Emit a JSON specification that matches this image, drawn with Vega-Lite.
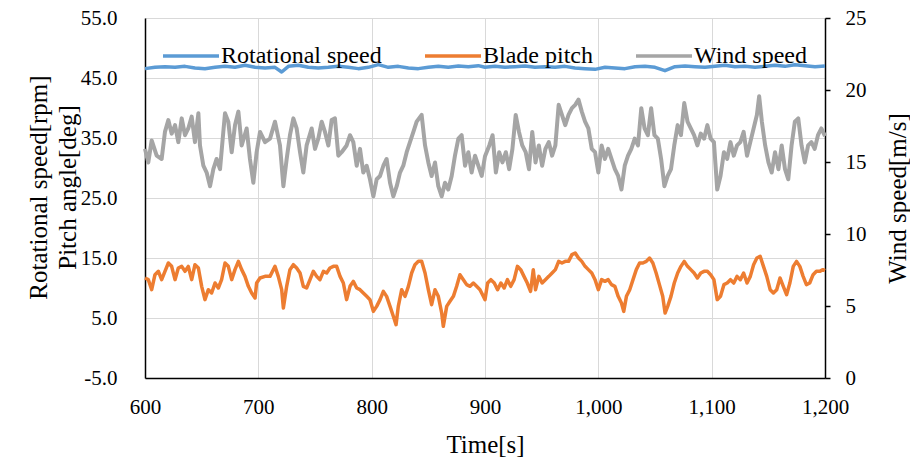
{
"$schema": "https://vega.github.io/schema/vega-lite/v6.json",
"width": 680, "height": 360,
"autosize": {"type": "none"},
"padding": {"left": 145, "top": 18, "right": 85, "bottom": 81},
"config": {
  "font": "Liberation Serif",
  "view": {"stroke": null},
  "axis": {"labelFont": "Liberation Serif", "titleFont": "Liberation Serif", "labelColor": "#000", "titleColor": "#000", "titleFontWeight": "normal", "labelFontSize": 21, "titleFontSize": 25, "gridColor": "#d9d9d9", "gridWidth": 1, "domainColor": "#000", "domainWidth": 1.5, "tickColor": "#000", "tickWidth": 1.5},
  "legend": {"labelFont": "Liberation Serif", "labelColor": "#000"}
},
"layer": [
  {
    "data": {"values": [
{"t":600.0,"v":46.56,"s":"Rotational speed"},{"t":608.8,"v":46.78,"s":"Rotational speed"},{"t":617.6,"v":46.89,"s":"Rotational speed"},{"t":626.5,"v":46.78,"s":"Rotational speed"},{"t":635.3,"v":46.94,"s":"Rotational speed"},{"t":644.1,"v":46.67,"s":"Rotational speed"},{"t":652.9,"v":46.56,"s":"Rotational speed"},{"t":661.8,"v":46.78,"s":"Rotational speed"},{"t":670.6,"v":46.94,"s":"Rotational speed"},{"t":679.4,"v":46.78,"s":"Rotational speed"},{"t":688.2,"v":47.11,"s":"Rotational speed"},{"t":697.1,"v":46.78,"s":"Rotational speed"},{"t":705.9,"v":46.67,"s":"Rotational speed"},{"t":714.7,"v":46.78,"s":"Rotational speed"},{"t":720.6,"v":46.0,"s":"Rotational speed"},{"t":726.5,"v":46.94,"s":"Rotational speed"},{"t":735.3,"v":47.11,"s":"Rotational speed"},{"t":744.1,"v":46.78,"s":"Rotational speed"},{"t":752.9,"v":46.67,"s":"Rotational speed"},{"t":761.8,"v":46.78,"s":"Rotational speed"},{"t":770.6,"v":46.94,"s":"Rotational speed"},{"t":779.4,"v":46.78,"s":"Rotational speed"},{"t":788.2,"v":46.56,"s":"Rotational speed"},{"t":797.1,"v":46.78,"s":"Rotational speed"},{"t":805.9,"v":47.22,"s":"Rotational speed"},{"t":814.7,"v":46.78,"s":"Rotational speed"},{"t":823.5,"v":46.94,"s":"Rotational speed"},{"t":832.4,"v":46.67,"s":"Rotational speed"},{"t":841.2,"v":46.56,"s":"Rotational speed"},{"t":850.0,"v":46.78,"s":"Rotational speed"},{"t":858.8,"v":46.94,"s":"Rotational speed"},{"t":867.6,"v":46.78,"s":"Rotational speed"},{"t":876.5,"v":47.0,"s":"Rotational speed"},{"t":885.3,"v":46.89,"s":"Rotational speed"},{"t":894.1,"v":47.06,"s":"Rotational speed"},{"t":900.0,"v":46.78,"s":"Rotational speed"},{"t":908.8,"v":46.94,"s":"Rotational speed"},{"t":917.6,"v":46.78,"s":"Rotational speed"},{"t":926.5,"v":46.89,"s":"Rotational speed"},{"t":935.3,"v":47.0,"s":"Rotational speed"},{"t":944.1,"v":46.78,"s":"Rotational speed"},{"t":952.9,"v":46.89,"s":"Rotational speed"},{"t":961.8,"v":46.78,"s":"Rotational speed"},{"t":970.6,"v":46.94,"s":"Rotational speed"},{"t":979.4,"v":46.67,"s":"Rotational speed"},{"t":988.2,"v":46.56,"s":"Rotational speed"},{"t":997.1,"v":46.44,"s":"Rotational speed"},{"t":1005.9,"v":46.78,"s":"Rotational speed"},{"t":1014.7,"v":46.67,"s":"Rotational speed"},{"t":1023.5,"v":46.56,"s":"Rotational speed"},{"t":1032.4,"v":46.89,"s":"Rotational speed"},{"t":1041.2,"v":46.94,"s":"Rotational speed"},{"t":1050.0,"v":46.78,"s":"Rotational speed"},{"t":1058.8,"v":46.22,"s":"Rotational speed"},{"t":1067.6,"v":46.89,"s":"Rotational speed"},{"t":1076.5,"v":47.0,"s":"Rotational speed"},{"t":1085.3,"v":46.89,"s":"Rotational speed"},{"t":1094.1,"v":46.78,"s":"Rotational speed"},{"t":1102.9,"v":46.94,"s":"Rotational speed"},{"t":1111.8,"v":47.11,"s":"Rotational speed"},{"t":1120.6,"v":46.89,"s":"Rotational speed"},{"t":1129.4,"v":46.94,"s":"Rotational speed"},{"t":1138.2,"v":46.78,"s":"Rotational speed"},{"t":1147.1,"v":46.94,"s":"Rotational speed"},{"t":1155.9,"v":47.11,"s":"Rotational speed"},{"t":1164.7,"v":46.94,"s":"Rotational speed"},{"t":1173.5,"v":47.22,"s":"Rotational speed"},{"t":1182.4,"v":47.06,"s":"Rotational speed"},{"t":1191.2,"v":46.89,"s":"Rotational speed"},{"t":1200.0,"v":47.0,"s":"Rotational speed"},
{"t":600.0,"v":11.67,"s":"Blade pitch"},{"t":602.9,"v":11.39,"s":"Blade pitch"},{"t":605.9,"v":9.72,"s":"Blade pitch"},{"t":608.8,"v":12.22,"s":"Blade pitch"},{"t":611.8,"v":12.78,"s":"Blade pitch"},{"t":614.7,"v":11.39,"s":"Blade pitch"},{"t":617.6,"v":12.78,"s":"Blade pitch"},{"t":620.6,"v":14.17,"s":"Blade pitch"},{"t":623.5,"v":13.61,"s":"Blade pitch"},{"t":626.5,"v":11.39,"s":"Blade pitch"},{"t":629.4,"v":13.33,"s":"Blade pitch"},{"t":632.4,"v":13.61,"s":"Blade pitch"},{"t":635.3,"v":12.78,"s":"Blade pitch"},{"t":638.2,"v":13.61,"s":"Blade pitch"},{"t":641.2,"v":11.39,"s":"Blade pitch"},{"t":644.1,"v":13.89,"s":"Blade pitch"},{"t":647.1,"v":13.33,"s":"Blade pitch"},{"t":650.0,"v":10.28,"s":"Blade pitch"},{"t":652.9,"v":8.06,"s":"Blade pitch"},{"t":655.9,"v":9.72,"s":"Blade pitch"},{"t":658.8,"v":9.17,"s":"Blade pitch"},{"t":661.8,"v":10.83,"s":"Blade pitch"},{"t":664.7,"v":10.0,"s":"Blade pitch"},{"t":667.6,"v":11.39,"s":"Blade pitch"},{"t":670.6,"v":14.17,"s":"Blade pitch"},{"t":673.5,"v":13.61,"s":"Blade pitch"},{"t":676.5,"v":11.39,"s":"Blade pitch"},{"t":679.4,"v":13.06,"s":"Blade pitch"},{"t":682.4,"v":14.44,"s":"Blade pitch"},{"t":685.3,"v":13.06,"s":"Blade pitch"},{"t":688.2,"v":11.94,"s":"Blade pitch"},{"t":691.2,"v":10.28,"s":"Blade pitch"},{"t":694.1,"v":9.17,"s":"Blade pitch"},{"t":697.1,"v":8.33,"s":"Blade pitch"},{"t":698.5,"v":10.83,"s":"Blade pitch"},{"t":701.5,"v":11.67,"s":"Blade pitch"},{"t":705.9,"v":11.94,"s":"Blade pitch"},{"t":710.3,"v":11.94,"s":"Blade pitch"},{"t":714.7,"v":13.61,"s":"Blade pitch"},{"t":717.6,"v":11.94,"s":"Blade pitch"},{"t":720.6,"v":9.72,"s":"Blade pitch"},{"t":722.1,"v":6.67,"s":"Blade pitch"},{"t":725.0,"v":10.28,"s":"Blade pitch"},{"t":727.9,"v":13.06,"s":"Blade pitch"},{"t":730.9,"v":13.89,"s":"Blade pitch"},{"t":733.8,"v":13.33,"s":"Blade pitch"},{"t":736.8,"v":12.5,"s":"Blade pitch"},{"t":739.7,"v":10.28,"s":"Blade pitch"},{"t":742.6,"v":10.0,"s":"Blade pitch"},{"t":745.6,"v":11.39,"s":"Blade pitch"},{"t":748.5,"v":12.78,"s":"Blade pitch"},{"t":751.5,"v":11.94,"s":"Blade pitch"},{"t":754.4,"v":11.39,"s":"Blade pitch"},{"t":757.4,"v":12.78,"s":"Blade pitch"},{"t":760.3,"v":12.5,"s":"Blade pitch"},{"t":763.2,"v":13.33,"s":"Blade pitch"},{"t":766.2,"v":13.61,"s":"Blade pitch"},{"t":769.1,"v":13.61,"s":"Blade pitch"},{"t":772.1,"v":11.94,"s":"Blade pitch"},{"t":775.0,"v":10.83,"s":"Blade pitch"},{"t":777.9,"v":8.06,"s":"Blade pitch"},{"t":780.9,"v":10.28,"s":"Blade pitch"},{"t":783.8,"v":11.11,"s":"Blade pitch"},{"t":786.8,"v":10.0,"s":"Blade pitch"},{"t":789.7,"v":9.72,"s":"Blade pitch"},{"t":792.6,"v":9.17,"s":"Blade pitch"},{"t":795.6,"v":8.61,"s":"Blade pitch"},{"t":798.5,"v":8.06,"s":"Blade pitch"},{"t":801.5,"v":6.11,"s":"Blade pitch"},{"t":804.4,"v":6.94,"s":"Blade pitch"},{"t":807.4,"v":8.06,"s":"Blade pitch"},{"t":810.3,"v":9.44,"s":"Blade pitch"},{"t":813.2,"v":8.61,"s":"Blade pitch"},{"t":816.2,"v":6.94,"s":"Blade pitch"},{"t":819.1,"v":5.28,"s":"Blade pitch"},{"t":821.5,"v":3.89,"s":"Blade pitch"},{"t":823.5,"v":6.94,"s":"Blade pitch"},{"t":826.5,"v":9.72,"s":"Blade pitch"},{"t":829.4,"v":8.61,"s":"Blade pitch"},{"t":832.4,"v":10.28,"s":"Blade pitch"},{"t":835.3,"v":12.5,"s":"Blade pitch"},{"t":838.2,"v":13.89,"s":"Blade pitch"},{"t":841.2,"v":14.44,"s":"Blade pitch"},{"t":844.1,"v":14.44,"s":"Blade pitch"},{"t":847.1,"v":12.5,"s":"Blade pitch"},{"t":850.0,"v":9.72,"s":"Blade pitch"},{"t":852.9,"v":7.22,"s":"Blade pitch"},{"t":855.9,"v":9.72,"s":"Blade pitch"},{"t":858.8,"v":8.61,"s":"Blade pitch"},{"t":861.8,"v":5.83,"s":"Blade pitch"},{"t":863.2,"v":3.61,"s":"Blade pitch"},{"t":866.2,"v":6.94,"s":"Blade pitch"},{"t":869.1,"v":7.78,"s":"Blade pitch"},{"t":872.1,"v":8.61,"s":"Blade pitch"},{"t":875.0,"v":10.28,"s":"Blade pitch"},{"t":877.9,"v":12.22,"s":"Blade pitch"},{"t":880.9,"v":11.39,"s":"Blade pitch"},{"t":883.8,"v":10.56,"s":"Blade pitch"},{"t":886.8,"v":10.28,"s":"Blade pitch"},{"t":889.7,"v":10.83,"s":"Blade pitch"},{"t":892.6,"v":10.28,"s":"Blade pitch"},{"t":895.6,"v":9.72,"s":"Blade pitch"},{"t":898.5,"v":8.61,"s":"Blade pitch"},{"t":900.0,"v":8.06,"s":"Blade pitch"},{"t":902.3,"v":10.83,"s":"Blade pitch"},{"t":905.2,"v":11.39,"s":"Blade pitch"},{"t":908.2,"v":10.83,"s":"Blade pitch"},{"t":911.1,"v":9.72,"s":"Blade pitch"},{"t":914.0,"v":10.83,"s":"Blade pitch"},{"t":916.9,"v":10.0,"s":"Blade pitch"},{"t":919.8,"v":11.39,"s":"Blade pitch"},{"t":922.7,"v":10.28,"s":"Blade pitch"},{"t":925.7,"v":11.39,"s":"Blade pitch"},{"t":928.6,"v":13.61,"s":"Blade pitch"},{"t":931.5,"v":13.06,"s":"Blade pitch"},{"t":934.4,"v":11.94,"s":"Blade pitch"},{"t":937.3,"v":10.83,"s":"Blade pitch"},{"t":940.2,"v":9.44,"s":"Blade pitch"},{"t":942.6,"v":13.06,"s":"Blade pitch"},{"t":944.6,"v":9.72,"s":"Blade pitch"},{"t":947.5,"v":11.94,"s":"Blade pitch"},{"t":950.4,"v":10.83,"s":"Blade pitch"},{"t":953.3,"v":11.39,"s":"Blade pitch"},{"t":956.3,"v":11.94,"s":"Blade pitch"},{"t":959.2,"v":12.5,"s":"Blade pitch"},{"t":962.1,"v":13.06,"s":"Blade pitch"},{"t":965.0,"v":14.44,"s":"Blade pitch"},{"t":967.9,"v":14.17,"s":"Blade pitch"},{"t":970.8,"v":14.44,"s":"Blade pitch"},{"t":973.7,"v":14.44,"s":"Blade pitch"},{"t":976.7,"v":15.56,"s":"Blade pitch"},{"t":979.6,"v":15.83,"s":"Blade pitch"},{"t":982.5,"v":15.0,"s":"Blade pitch"},{"t":985.4,"v":14.44,"s":"Blade pitch"},{"t":988.3,"v":13.61,"s":"Blade pitch"},{"t":991.2,"v":13.06,"s":"Blade pitch"},{"t":994.2,"v":12.5,"s":"Blade pitch"},{"t":997.1,"v":11.39,"s":"Blade pitch"},{"t":1000.0,"v":9.72,"s":"Blade pitch"},{"t":1002.9,"v":11.39,"s":"Blade pitch"},{"t":1005.8,"v":11.11,"s":"Blade pitch"},{"t":1008.7,"v":11.39,"s":"Blade pitch"},{"t":1011.6,"v":10.56,"s":"Blade pitch"},{"t":1014.6,"v":10.28,"s":"Blade pitch"},{"t":1017.5,"v":8.61,"s":"Blade pitch"},{"t":1020.4,"v":7.5,"s":"Blade pitch"},{"t":1022.4,"v":6.11,"s":"Blade pitch"},{"t":1024.8,"v":8.61,"s":"Blade pitch"},{"t":1027.7,"v":9.72,"s":"Blade pitch"},{"t":1030.6,"v":11.39,"s":"Blade pitch"},{"t":1033.5,"v":13.06,"s":"Blade pitch"},{"t":1036.4,"v":14.17,"s":"Blade pitch"},{"t":1039.3,"v":14.17,"s":"Blade pitch"},{"t":1042.3,"v":14.44,"s":"Blade pitch"},{"t":1045.2,"v":15.0,"s":"Blade pitch"},{"t":1048.1,"v":14.17,"s":"Blade pitch"},{"t":1051.0,"v":12.5,"s":"Blade pitch"},{"t":1053.9,"v":10.56,"s":"Blade pitch"},{"t":1056.8,"v":8.61,"s":"Blade pitch"},{"t":1058.9,"v":5.83,"s":"Blade pitch"},{"t":1061.2,"v":6.94,"s":"Blade pitch"},{"t":1064.1,"v":8.61,"s":"Blade pitch"},{"t":1067.0,"v":10.83,"s":"Blade pitch"},{"t":1070.0,"v":12.5,"s":"Blade pitch"},{"t":1072.9,"v":13.61,"s":"Blade pitch"},{"t":1075.8,"v":14.44,"s":"Blade pitch"},{"t":1078.7,"v":13.61,"s":"Blade pitch"},{"t":1081.6,"v":13.06,"s":"Blade pitch"},{"t":1084.5,"v":12.5,"s":"Blade pitch"},{"t":1087.4,"v":11.67,"s":"Blade pitch"},{"t":1090.4,"v":12.5,"s":"Blade pitch"},{"t":1093.3,"v":12.78,"s":"Blade pitch"},{"t":1096.2,"v":12.78,"s":"Blade pitch"},{"t":1099.1,"v":12.22,"s":"Blade pitch"},{"t":1102.0,"v":11.39,"s":"Blade pitch"},{"t":1104.9,"v":8.06,"s":"Blade pitch"},{"t":1107.8,"v":8.61,"s":"Blade pitch"},{"t":1110.8,"v":10.56,"s":"Blade pitch"},{"t":1113.7,"v":10.83,"s":"Blade pitch"},{"t":1116.6,"v":11.39,"s":"Blade pitch"},{"t":1119.5,"v":10.83,"s":"Blade pitch"},{"t":1122.4,"v":11.94,"s":"Blade pitch"},{"t":1125.3,"v":11.39,"s":"Blade pitch"},{"t":1128.2,"v":12.5,"s":"Blade pitch"},{"t":1131.2,"v":10.83,"s":"Blade pitch"},{"t":1134.1,"v":11.94,"s":"Blade pitch"},{"t":1137.0,"v":13.89,"s":"Blade pitch"},{"t":1139.9,"v":15.0,"s":"Blade pitch"},{"t":1142.8,"v":15.28,"s":"Blade pitch"},{"t":1145.7,"v":13.61,"s":"Blade pitch"},{"t":1148.6,"v":11.94,"s":"Blade pitch"},{"t":1151.6,"v":9.72,"s":"Blade pitch"},{"t":1154.5,"v":9.17,"s":"Blade pitch"},{"t":1157.4,"v":9.72,"s":"Blade pitch"},{"t":1160.3,"v":11.67,"s":"Blade pitch"},{"t":1163.2,"v":10.28,"s":"Blade pitch"},{"t":1166.1,"v":8.89,"s":"Blade pitch"},{"t":1169.0,"v":10.83,"s":"Blade pitch"},{"t":1172.0,"v":13.61,"s":"Blade pitch"},{"t":1174.9,"v":14.44,"s":"Blade pitch"},{"t":1177.8,"v":13.61,"s":"Blade pitch"},{"t":1180.7,"v":11.94,"s":"Blade pitch"},{"t":1183.6,"v":10.56,"s":"Blade pitch"},{"t":1186.5,"v":10.83,"s":"Blade pitch"},{"t":1189.5,"v":12.22,"s":"Blade pitch"},{"t":1192.4,"v":12.78,"s":"Blade pitch"},{"t":1195.3,"v":12.78,"s":"Blade pitch"},{"t":1198.2,"v":13.06,"s":"Blade pitch"},{"t":1200.0,"v":12.9,"s":"Blade pitch"}
    ]},
    "mark": {"type": "line", "strokeWidth": 3.5, "strokeJoin": "round"},
    "encoding": {
      "x": {"field": "t", "type": "quantitative", "scale": {"domain": [600, 1200], "nice": false},
        "axis": {"values": [600, 700, 800, 900, 1000, 1100, 1200], "format": ",d", "ticks": false, "grid": true, "labelFont": "Liberation Serif", "labelFontSize": 21, "labelPadding": 35, "labelBaseline": "alphabetic", "labelFlush": false, "title": "Time[s]", "titleY": 74, "titleBaseline": "alphabetic"}},
      "y": {"field": "v", "type": "quantitative", "scale": {"domain": [-5, 55], "nice": false, "zero": false},
        "axis": {"orient": "left", "values": [-5, 5, 15, 25, 35, 45, 55], "labelExpr": "replace(format(datum.value, '.1f'), '\u2212', '-')", "ticks": false, "grid": true, "labelFont": "Liberation Serif", "labelFontSize": 21, "labelPadding": 28,
          "title": ["Rotational speed[rpm]", "Pitch angle[deg]"], "titleAngle": 270, "titleX": -107, "titleY": 169, "titleAlign": "center", "titleBaseline": "middle", "titleLineHeight": 29}},
      "color": {"field": "s", "type": "nominal",
        "scale": {"domain": ["Rotational speed", "Blade pitch", "Wind speed"], "range": ["#5B9BD5", "#ED7D31", "#A5A5A5"]},
        "legend": {"orient": "none", "legendX": 16, "legendY": 8, "direction": "horizontal", "title": null, "symbolType": "stroke", "symbolSize": 3136, "symbolStrokeWidth": 3.5, "labelFont": "Liberation Serif", "labelFontSize": 24, "labelLimit": 400, "labelOffset": 0, "columnPadding": 36, "padding": 0}}
    }
  },
  {
    "data": {"values": [
{"t":600.0,"v":15.91,"s":"Wind speed"},{"t":602.9,"v":14.97,"s":"Wind speed"},{"t":605.9,"v":16.5,"s":"Wind speed"},{"t":610.3,"v":15.44,"s":"Wind speed"},{"t":614.7,"v":15.21,"s":"Wind speed"},{"t":617.6,"v":17.09,"s":"Wind speed"},{"t":620.6,"v":17.91,"s":"Wind speed"},{"t":623.5,"v":16.97,"s":"Wind speed"},{"t":626.5,"v":17.56,"s":"Wind speed"},{"t":629.4,"v":16.38,"s":"Wind speed"},{"t":632.4,"v":18.03,"s":"Wind speed"},{"t":635.3,"v":16.86,"s":"Wind speed"},{"t":638.2,"v":17.33,"s":"Wind speed"},{"t":641.2,"v":18.15,"s":"Wind speed"},{"t":644.1,"v":16.38,"s":"Wind speed"},{"t":647.1,"v":18.39,"s":"Wind speed"},{"t":648.5,"v":16.15,"s":"Wind speed"},{"t":651.5,"v":14.74,"s":"Wind speed"},{"t":654.4,"v":14.27,"s":"Wind speed"},{"t":657.4,"v":13.32,"s":"Wind speed"},{"t":660.3,"v":14.5,"s":"Wind speed"},{"t":663.2,"v":15.21,"s":"Wind speed"},{"t":666.2,"v":14.5,"s":"Wind speed"},{"t":669.1,"v":17.09,"s":"Wind speed"},{"t":670.6,"v":18.39,"s":"Wind speed"},{"t":673.5,"v":17.8,"s":"Wind speed"},{"t":676.5,"v":15.68,"s":"Wind speed"},{"t":679.4,"v":17.56,"s":"Wind speed"},{"t":682.4,"v":18.5,"s":"Wind speed"},{"t":685.3,"v":16.15,"s":"Wind speed"},{"t":689.7,"v":17.33,"s":"Wind speed"},{"t":692.6,"v":15.21,"s":"Wind speed"},{"t":695.6,"v":13.56,"s":"Wind speed"},{"t":698.5,"v":15.68,"s":"Wind speed"},{"t":701.5,"v":17.09,"s":"Wind speed"},{"t":705.9,"v":16.38,"s":"Wind speed"},{"t":710.3,"v":16.62,"s":"Wind speed"},{"t":714.7,"v":17.8,"s":"Wind speed"},{"t":719.1,"v":16.15,"s":"Wind speed"},{"t":722.1,"v":13.32,"s":"Wind speed"},{"t":725.0,"v":15.21,"s":"Wind speed"},{"t":727.9,"v":16.86,"s":"Wind speed"},{"t":730.9,"v":18.03,"s":"Wind speed"},{"t":733.8,"v":17.33,"s":"Wind speed"},{"t":736.8,"v":15.68,"s":"Wind speed"},{"t":739.7,"v":14.27,"s":"Wind speed"},{"t":742.6,"v":16.15,"s":"Wind speed"},{"t":747.1,"v":17.33,"s":"Wind speed"},{"t":750.0,"v":15.91,"s":"Wind speed"},{"t":752.9,"v":16.62,"s":"Wind speed"},{"t":755.9,"v":17.8,"s":"Wind speed"},{"t":758.8,"v":17.09,"s":"Wind speed"},{"t":761.8,"v":16.15,"s":"Wind speed"},{"t":764.7,"v":17.91,"s":"Wind speed"},{"t":767.6,"v":18.03,"s":"Wind speed"},{"t":770.6,"v":15.44,"s":"Wind speed"},{"t":773.5,"v":15.68,"s":"Wind speed"},{"t":777.9,"v":16.15,"s":"Wind speed"},{"t":780.9,"v":16.86,"s":"Wind speed"},{"t":783.8,"v":16.38,"s":"Wind speed"},{"t":786.8,"v":14.74,"s":"Wind speed"},{"t":789.7,"v":15.91,"s":"Wind speed"},{"t":792.6,"v":14.27,"s":"Wind speed"},{"t":795.6,"v":14.74,"s":"Wind speed"},{"t":798.5,"v":13.8,"s":"Wind speed"},{"t":801.5,"v":12.62,"s":"Wind speed"},{"t":804.4,"v":13.8,"s":"Wind speed"},{"t":807.4,"v":14.03,"s":"Wind speed"},{"t":810.3,"v":14.74,"s":"Wind speed"},{"t":813.2,"v":15.21,"s":"Wind speed"},{"t":816.2,"v":13.56,"s":"Wind speed"},{"t":819.1,"v":12.62,"s":"Wind speed"},{"t":822.1,"v":13.32,"s":"Wind speed"},{"t":825.0,"v":14.27,"s":"Wind speed"},{"t":827.9,"v":14.74,"s":"Wind speed"},{"t":830.9,"v":15.68,"s":"Wind speed"},{"t":833.8,"v":16.38,"s":"Wind speed"},{"t":836.8,"v":17.09,"s":"Wind speed"},{"t":839.7,"v":17.8,"s":"Wind speed"},{"t":844.1,"v":18.27,"s":"Wind speed"},{"t":847.1,"v":16.15,"s":"Wind speed"},{"t":850.0,"v":14.97,"s":"Wind speed"},{"t":852.9,"v":14.03,"s":"Wind speed"},{"t":855.9,"v":14.97,"s":"Wind speed"},{"t":858.8,"v":13.32,"s":"Wind speed"},{"t":861.8,"v":12.62,"s":"Wind speed"},{"t":864.7,"v":13.56,"s":"Wind speed"},{"t":867.6,"v":13.09,"s":"Wind speed"},{"t":870.6,"v":14.03,"s":"Wind speed"},{"t":873.5,"v":15.44,"s":"Wind speed"},{"t":876.5,"v":16.62,"s":"Wind speed"},{"t":879.4,"v":16.86,"s":"Wind speed"},{"t":882.4,"v":14.74,"s":"Wind speed"},{"t":885.3,"v":15.68,"s":"Wind speed"},{"t":888.2,"v":14.27,"s":"Wind speed"},{"t":891.2,"v":15.44,"s":"Wind speed"},{"t":894.1,"v":14.74,"s":"Wind speed"},{"t":897.1,"v":14.03,"s":"Wind speed"},{"t":900.0,"v":15.4,"s":"Wind speed"},{"t":903.8,"v":16.15,"s":"Wind speed"},{"t":906.7,"v":16.86,"s":"Wind speed"},{"t":909.6,"v":14.27,"s":"Wind speed"},{"t":912.5,"v":15.68,"s":"Wind speed"},{"t":915.4,"v":14.97,"s":"Wind speed"},{"t":918.4,"v":15.68,"s":"Wind speed"},{"t":921.3,"v":14.5,"s":"Wind speed"},{"t":924.2,"v":15.91,"s":"Wind speed"},{"t":927.1,"v":18.27,"s":"Wind speed"},{"t":930.0,"v":17.09,"s":"Wind speed"},{"t":932.9,"v":16.15,"s":"Wind speed"},{"t":935.9,"v":15.68,"s":"Wind speed"},{"t":938.8,"v":14.5,"s":"Wind speed"},{"t":941.7,"v":17.09,"s":"Wind speed"},{"t":944.6,"v":14.97,"s":"Wind speed"},{"t":947.5,"v":16.15,"s":"Wind speed"},{"t":950.4,"v":14.74,"s":"Wind speed"},{"t":953.3,"v":15.91,"s":"Wind speed"},{"t":956.3,"v":16.38,"s":"Wind speed"},{"t":959.2,"v":15.44,"s":"Wind speed"},{"t":962.1,"v":16.15,"s":"Wind speed"},{"t":965.0,"v":18.97,"s":"Wind speed"},{"t":967.9,"v":18.27,"s":"Wind speed"},{"t":970.8,"v":17.56,"s":"Wind speed"},{"t":973.7,"v":18.27,"s":"Wind speed"},{"t":976.7,"v":18.74,"s":"Wind speed"},{"t":979.6,"v":18.97,"s":"Wind speed"},{"t":982.5,"v":19.33,"s":"Wind speed"},{"t":985.4,"v":18.5,"s":"Wind speed"},{"t":988.3,"v":17.8,"s":"Wind speed"},{"t":991.2,"v":17.33,"s":"Wind speed"},{"t":994.2,"v":15.91,"s":"Wind speed"},{"t":997.1,"v":15.68,"s":"Wind speed"},{"t":1000.0,"v":14.27,"s":"Wind speed"},{"t":1002.9,"v":16.15,"s":"Wind speed"},{"t":1005.8,"v":15.21,"s":"Wind speed"},{"t":1008.7,"v":15.91,"s":"Wind speed"},{"t":1011.6,"v":15.21,"s":"Wind speed"},{"t":1014.6,"v":14.5,"s":"Wind speed"},{"t":1017.5,"v":14.03,"s":"Wind speed"},{"t":1020.4,"v":13.09,"s":"Wind speed"},{"t":1023.3,"v":14.74,"s":"Wind speed"},{"t":1026.2,"v":15.44,"s":"Wind speed"},{"t":1029.1,"v":15.91,"s":"Wind speed"},{"t":1032.1,"v":16.62,"s":"Wind speed"},{"t":1035.0,"v":16.15,"s":"Wind speed"},{"t":1037.9,"v":18.74,"s":"Wind speed"},{"t":1040.8,"v":17.33,"s":"Wind speed"},{"t":1043.7,"v":16.86,"s":"Wind speed"},{"t":1046.6,"v":18.74,"s":"Wind speed"},{"t":1049.5,"v":16.86,"s":"Wind speed"},{"t":1052.5,"v":16.62,"s":"Wind speed"},{"t":1055.4,"v":15.21,"s":"Wind speed"},{"t":1058.3,"v":13.32,"s":"Wind speed"},{"t":1061.2,"v":14.03,"s":"Wind speed"},{"t":1064.1,"v":14.5,"s":"Wind speed"},{"t":1067.0,"v":16.15,"s":"Wind speed"},{"t":1070.0,"v":17.56,"s":"Wind speed"},{"t":1072.9,"v":16.86,"s":"Wind speed"},{"t":1075.8,"v":19.09,"s":"Wind speed"},{"t":1078.7,"v":17.8,"s":"Wind speed"},{"t":1081.6,"v":17.33,"s":"Wind speed"},{"t":1084.5,"v":16.86,"s":"Wind speed"},{"t":1087.4,"v":16.15,"s":"Wind speed"},{"t":1090.4,"v":16.97,"s":"Wind speed"},{"t":1093.3,"v":16.62,"s":"Wind speed"},{"t":1096.2,"v":17.56,"s":"Wind speed"},{"t":1099.1,"v":16.62,"s":"Wind speed"},{"t":1102.0,"v":16.38,"s":"Wind speed"},{"t":1104.9,"v":13.09,"s":"Wind speed"},{"t":1107.8,"v":14.03,"s":"Wind speed"},{"t":1110.8,"v":15.68,"s":"Wind speed"},{"t":1113.7,"v":15.21,"s":"Wind speed"},{"t":1116.6,"v":16.38,"s":"Wind speed"},{"t":1119.5,"v":15.44,"s":"Wind speed"},{"t":1122.4,"v":16.15,"s":"Wind speed"},{"t":1125.3,"v":16.38,"s":"Wind speed"},{"t":1128.2,"v":17.09,"s":"Wind speed"},{"t":1131.2,"v":15.44,"s":"Wind speed"},{"t":1134.1,"v":16.38,"s":"Wind speed"},{"t":1137.0,"v":17.33,"s":"Wind speed"},{"t":1139.9,"v":18.27,"s":"Wind speed"},{"t":1141.9,"v":19.56,"s":"Wind speed"},{"t":1144.3,"v":17.8,"s":"Wind speed"},{"t":1147.2,"v":16.15,"s":"Wind speed"},{"t":1150.1,"v":14.97,"s":"Wind speed"},{"t":1153.0,"v":14.27,"s":"Wind speed"},{"t":1155.9,"v":15.68,"s":"Wind speed"},{"t":1158.9,"v":14.5,"s":"Wind speed"},{"t":1161.8,"v":16.15,"s":"Wind speed"},{"t":1164.7,"v":14.5,"s":"Wind speed"},{"t":1167.6,"v":13.8,"s":"Wind speed"},{"t":1170.5,"v":16.15,"s":"Wind speed"},{"t":1173.4,"v":17.8,"s":"Wind speed"},{"t":1176.4,"v":18.03,"s":"Wind speed"},{"t":1179.3,"v":16.15,"s":"Wind speed"},{"t":1182.2,"v":14.97,"s":"Wind speed"},{"t":1185.1,"v":16.15,"s":"Wind speed"},{"t":1188.0,"v":16.38,"s":"Wind speed"},{"t":1190.9,"v":15.91,"s":"Wind speed"},{"t":1193.8,"v":16.86,"s":"Wind speed"},{"t":1196.8,"v":17.33,"s":"Wind speed"},{"t":1200.0,"v":16.8,"s":"Wind speed"}
    ]},
    "mark": {"type": "line", "strokeWidth": 4, "strokeJoin": "round"},
    "encoding": {
      "x": {"field": "t", "type": "quantitative", "scale": {"domain": [600, 1200], "nice": false}},
      "y": {"field": "v", "type": "quantitative", "scale": {"domain": [0, 25], "nice": false},
        "axis": {"orient": "right", "values": [0, 5, 10, 15, 20, 25], "grid": false, "ticks": true, "tickSize": 5, "labelFont": "Liberation Serif", "labelFontSize": 21, "labelPadding": 15,
          "title": "Wind speed[m/s]", "titleAngle": 270, "titleX": 72, "titleY": 180, "titleAlign": "center", "titleBaseline": "middle"}},
      "color": {"field": "s", "type": "nominal"}
    }
  }
],
"resolve": {"scale": {"y": "independent"}}
}
